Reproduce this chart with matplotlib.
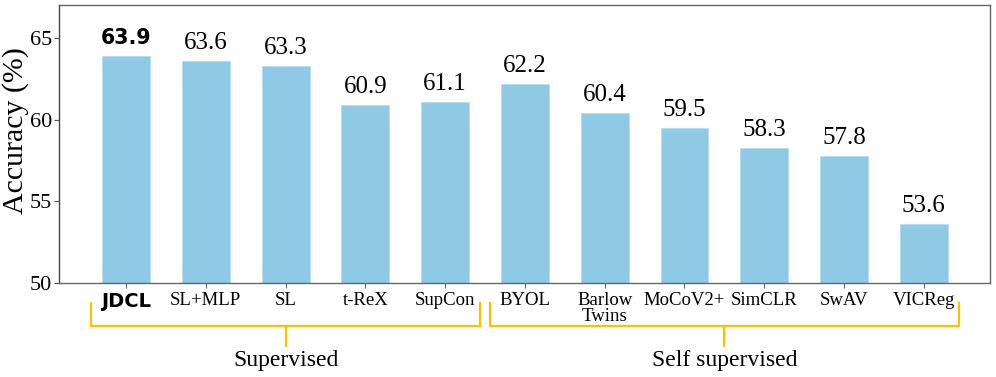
import matplotlib
matplotlib.use("Agg")
import matplotlib.pyplot as plt
import matplotlib.transforms as mtransforms

methods = ["JDCL", "SL+MLP", "SL", "t-ReX", "SupCon", "BYOL", "Barlow\nTwins",
           "MoCoV2+", "SimCLR", "SwAV", "VICReg"]
accuracy = [63.9, 63.6, 63.3, 60.9, 61.1, 62.2, 60.4, 59.5, 58.3, 57.8, 53.6]
groups = [("Supervised", 0, 4), ("Self supervised", 5, 10)]

serif = "Liberation Serif"
fig = plt.figure(figsize=(9.96, 3.77), dpi=100)
ax = fig.add_axes([59/996, 1-283/377, (990-59)/996, (283-5)/377])

x = list(range(len(methods)))
ax.bar(x, accuracy, width=0.6, color="#8ECAE6", edgecolor="#B5DDF0", linewidth=0.6)
ax.set_ylim(50, 67.05)
ax.set_xlim(-0.84, 10.83)
ax.set_yticks([50, 55, 60, 65])
ax.set_yticklabels(["50", "55", "60", "65"], fontfamily=serif, fontsize=16)
ax.set_xticks(x)
ax.set_xticklabels(methods, fontfamily=serif, fontsize=13.5, linespacing=0.95)
lbls = ax.get_xticklabels()
lbls[0].set_fontfamily("DejaVu Sans")
lbls[0].set_fontweight("bold")
lbls[0].set_fontsize(14)
ax.set_ylabel("Accuracy (%)", fontfamily=serif, fontsize=21.5)
ax.yaxis.set_label_coords(-0.032, 0.55)
for s in ax.spines.values():
    s.set_color("#666666")
    s.set_linewidth(1.0)
ax.spines["left"].set_color("#444444")
ax.tick_params(axis="y", color="#555555", length=3.5, pad=1.5)
ax.tick_params(axis="x", color="#666666", length=3.5, pad=3)

for i, v in enumerate(accuracy):
    if i == 0:
        ax.annotate(f"{v}", (i, v), xytext=(0, 6), textcoords="offset points",
                    ha="center", va="bottom", fontsize=14.8, fontweight="bold",
                    fontfamily="DejaVu Sans")
    else:
        ax.annotate(f"{v}", (i, v), xytext=(0, 5), textcoords="offset points",
                    ha="center", va="bottom", fontsize=18, fontfamily=serif)

trans = mtransforms.blended_transform_factory(ax.transData, ax.transAxes)
bc = "#FFC000"
for name, a, b in groups:
    x0, x1 = a - 0.44, b + 0.44
    y_top, y_mid, y_low = -0.072, -0.155, -0.225
    ax.plot([x0, x0, x1, x1], [y_top, y_mid, y_mid, y_top], color=bc, lw=1.6,
            transform=trans, clip_on=False, solid_joinstyle="miter")
    xc = (x0 + x1) / 2
    ax.plot([xc, xc], [y_mid, y_low], color=bc, lw=1.6, transform=trans, clip_on=False)
    ax.text(xc, -0.28, name, transform=trans, ha="center", va="center",
            fontsize=17, fontfamily=serif)

fig.savefig("out.png", dpi=100)
